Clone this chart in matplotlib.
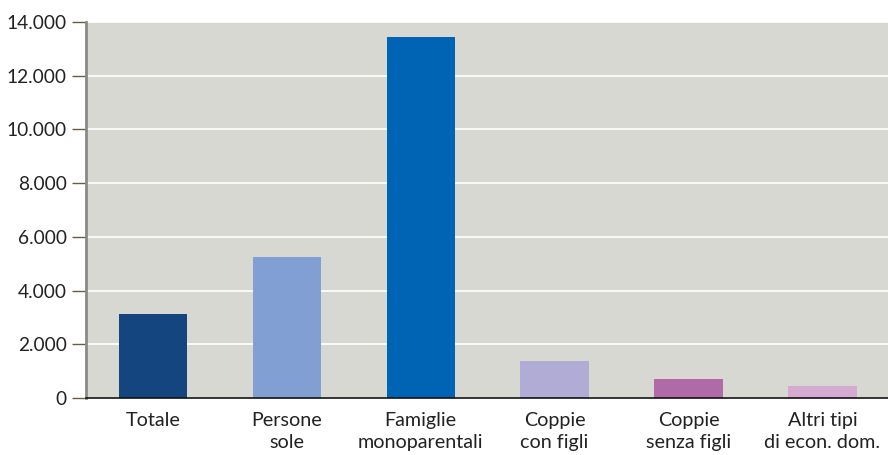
import matplotlib
matplotlib.use("Agg")
import matplotlib.pyplot as plt
from matplotlib.ticker import FuncFormatter

# categories and values
categorie = ["Totale", "Persone\nsole", "Famiglie\nmonoparentali",
             "Coppie\ncon figli", "Coppie\nsenza figli", "Altri tipi\ndi econ. dom."]
valori = [3130, 5250, 13440, 1380, 710, 450]
colori = ["#14457e", "#829fd4", "#0064b4", "#b0acd6", "#b06aa8", "#d4aad0"]

plt.rcParams["font.family"] = ["Lato", "DejaVu Sans"]

fig = plt.figure(figsize=(8.88, 4.55), dpi=100)
ax = fig.add_axes([86 / 888, 1 - 398 / 455, 802 / 888, 376 / 455])
ax.set_facecolor("#d8d8d3")

x = list(range(len(categorie)))
ax.bar(x, valori, width=0.51, color=colori, zorder=3)

ax.set_xlim(-0.5, 5.49)
ax.set_ylim(0, 14000)
ax.set_yticks(range(0, 14001, 2000))
ax.yaxis.set_major_formatter(FuncFormatter(lambda v, p: f"{int(v):,}".replace(",", ".")))
ax.grid(axis="y", color="white", linewidth=1.2, zorder=0)

ax.set_xticks(x)
ax.set_xticklabels(categorie, fontsize=14.2, color="#222222", linespacing=1.4)
ax.tick_params(axis="x", length=0, pad=10)
ax.tick_params(axis="y", length=10, width=1, color="#6b5a45", labelsize=13.8,
               labelcolor="#222222", pad=4)

for s in ["top", "right"]:
    ax.spines[s].set_visible(False)
ax.spines["left"].set_color("#8a8a8a")
ax.spines["left"].set_linewidth(2)
ax.spines["bottom"].set_color("#111111")
ax.spines["bottom"].set_linewidth(1.2)
ax.spines["bottom"].set_zorder(4)

fig.savefig("out.png", dpi=100)
